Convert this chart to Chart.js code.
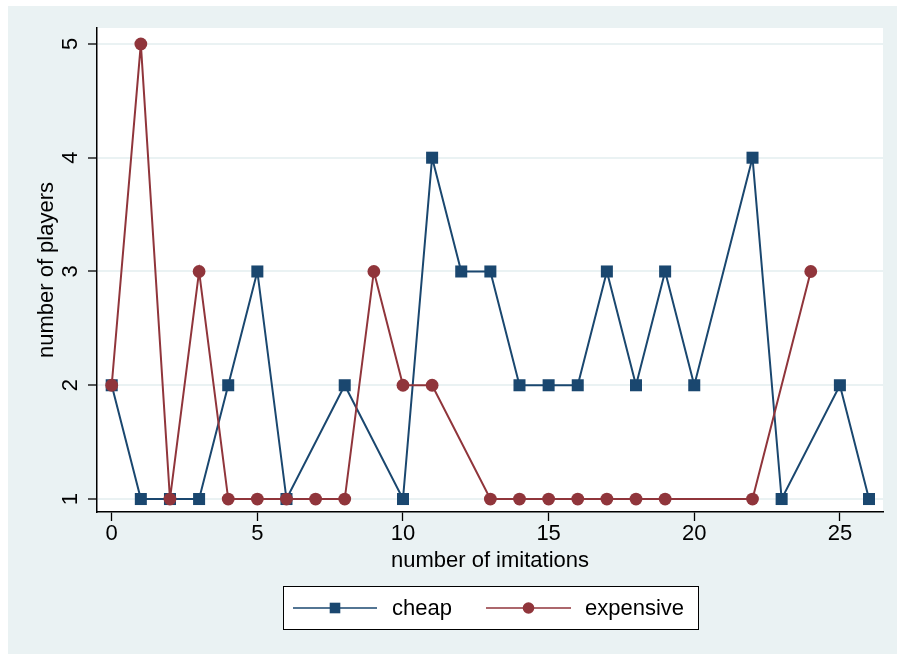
<!DOCTYPE html>
<html>
<head>
<meta charset="utf-8">
<script src="https://cdn.jsdelivr.net/npm/chart.js@4"></script>
<style>
  html, body { margin: 0; padding: 0; background: #fff; }
  canvas { display: block; }
</style>
</head>
<body>
<canvas id="chart" width="897" height="654"></canvas>
<script>
const cheapX = [0, 1, 2, 3, 4, 5, 6, 8, 10, 11, 12, 13, 14, 15, 16, 17, 18, 19, 20, 22, 23, 25, 26];
const cheapY = [2, 1, 1, 1, 2, 3, 1, 2, 1, 4, 3, 3, 2, 2, 2, 3, 2, 3, 2, 4, 1, 2, 1];
const expensiveX = [0, 1, 2, 3, 4, 5, 6, 7, 8, 9, 10, 11, 13, 14, 15, 16, 17, 18, 19, 22, 24];
const expensiveY = [2, 5, 1, 3, 1, 1, 1, 1, 1, 3, 2, 2, 1, 1, 1, 1, 1, 1, 1, 1, 3];
const xTicks = [0, 5, 10, 15, 20, 25];
const yTicks = [1, 2, 3, 4, 5];
const seriesNames = ['cheap', 'expensive'];

const BLUE = '#1a476f';
const RED = '#90353b';
const BG = '#eaf2f3';
const FONT = '"Liberation Sans", Arial, sans-serif';

const toPoints = (xs, ys) => xs.map((x, i) => ({ x: x, y: ys[i] }));

// background + white plot region
const backdrop = {
    id: 'backdrop',
    beforeDraw(chart) {
        const { ctx, chartArea: a } = chart;
        ctx.save();
        ctx.fillStyle = '#fff';
        ctx.fillRect(0, 0, chart.width, chart.height);
        ctx.fillStyle = BG;
        ctx.fillRect(8, 6, chart.width - 8, chart.height - 6);
        ctx.fillStyle = '#fff';
        ctx.fillRect(a.left, a.top, a.right - a.left, a.bottom - a.top);
        ctx.restore();
    }
};

// rotated y tick labels (stata style) and the legend box
const extras = {
    id: 'extras',
    afterDraw(chart) {
        const ctx = chart.ctx;
        const y = chart.scales.y;
        ctx.save();
        ctx.fillStyle = '#000';
        ctx.font = '22px ' + FONT;
        ctx.textAlign = 'center';
        ctx.textBaseline = 'alphabetic';
        y.ticks.forEach(t => {
            const py = y.getPixelForValue(t.value);
            ctx.save();
            ctx.translate(77, py);
            ctx.rotate(-Math.PI / 2);
            ctx.fillText(String(t.value), 0, 0);
            ctx.restore();
        });

        // legend
        const bx = 283.5, by = 586.5, bw = 415, bh = 43;
        ctx.fillStyle = '#fff';
        ctx.fillRect(bx, by, bw, bh);
        ctx.strokeStyle = '#000';
        ctx.lineWidth = 1;
        ctx.strokeRect(bx, by, bw, bh);

        const ly = 608;
        const items = [
            { name: seriesNames[0], color: BLUE, x0: 293, x1: 377, text: 392, marker: 'rect' },
            { name: seriesNames[1], color: RED, x0: 486, x1: 571, text: 585, marker: 'circle' }
        ];
        items.forEach(it => {
            ctx.strokeStyle = it.color;
            ctx.lineWidth = 1.5;
            ctx.beginPath();
            ctx.moveTo(it.x0, ly);
            ctx.lineTo(it.x1, ly);
            ctx.stroke();
            const cx = (it.x0 + it.x1) / 2;
            ctx.fillStyle = it.color;
            if (it.marker === 'rect') {
                ctx.fillRect(cx - 5.3, ly - 5.3, 10.6, 10.6);
            } else {
                ctx.beginPath();
                ctx.arc(cx, ly, 5.8, 0, Math.PI * 2);
                ctx.fill();
            }
            ctx.fillStyle = '#000';
            ctx.textAlign = 'left';
            ctx.textBaseline = 'middle';
            ctx.font = '22px ' + FONT;
            ctx.fillText(it.name, it.text, ly + 1);
        });
        ctx.restore();
    }
};

const ctx = document.getElementById('chart');

new Chart(ctx, {
    type: 'line',
    data: {
        datasets: [
            {
                label: seriesNames[0],
                data: toPoints(cheapX, cheapY),
                borderColor: BLUE,
                backgroundColor: BLUE,
                borderWidth: 2,
                pointStyle: 'rect',
                pointRadius: 8.5,
                pointBorderWidth: 0,
                tension: 0,
                order: 1
            },
            {
                label: seriesNames[1],
                data: toPoints(expensiveX, expensiveY),
                borderColor: RED,
                backgroundColor: RED,
                borderWidth: 2,
                pointStyle: 'circle',
                pointRadius: 6.4,
                pointBorderWidth: 0,
                tension: 0,
                order: 0
            }
        ]
    },
    options: {
        responsive: false,
        animation: false,
        layout: {
            padding: { left: 34, top: 28, right: 14, bottom: 80 }
        },
        plugins: {
            legend: { display: false },
            tooltip: { enabled: false }
        },
        scales: {
            x: {
                type: 'linear',
                min: -0.505,
                max: 26.48,
                afterBuildTicks: s => { s.ticks = xTicks.map(v => ({ value: v })); },
                afterFit: s => { s.height = 62; },
                grid: {
                    drawOnChartArea: false,
                    tickLength: 9,
                    tickColor: '#000',
                    tickWidth: 1.3
                },
                border: { color: '#000', width: 1.5 },
                ticks: {
                    padding: 0,
                    color: '#000',
                    font: { family: FONT, size: 22 }
                },
                title: {
                    display: true,
                    text: 'number of imitations',
                    color: '#000',
                    padding: 0,
                    font: { family: FONT, size: 22 }
                }
            },
            y: {
                min: 0.886,
                max: 5.14,
                afterBuildTicks: s => { s.ticks = yTicks.map(v => ({ value: v })); },
                afterFit: s => { s.width = 63; },
                grid: {
                    color: BG,
                    lineWidth: 2,
                    tickLength: 9,
                    tickColor: '#000',
                    tickWidth: 1.3
                },
                border: { color: '#000', width: 1.5 },
                ticks: {
                    color: 'rgba(0,0,0,0)',
                    font: { family: FONT, size: 22 }
                },
                title: {
                    display: true,
                    text: 'number of players',
                    color: '#000',
                    padding: 0,
                    font: { family: FONT, size: 22 }
                }
            }
        }
    },
    plugins: [backdrop, extras]
});
</script>
</body>
</html>
